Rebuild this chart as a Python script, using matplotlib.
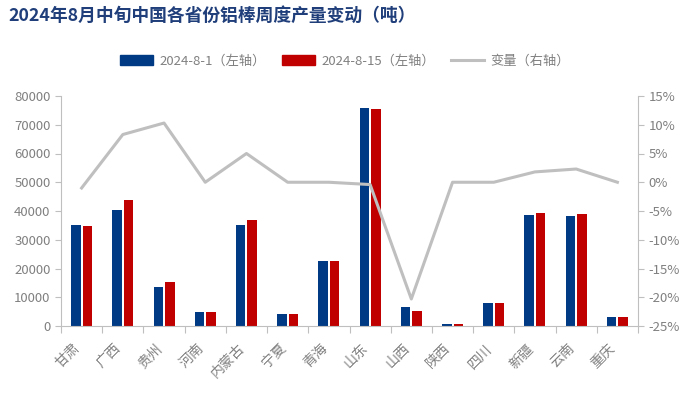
import numpy as np
import matplotlib.pyplot as plt
import matplotlib.transforms as mtransforms
from matplotlib.patches import Patch
from matplotlib.lines import Line2D
from matplotlib.ticker import FuncFormatter

plt.rcParams['font.family'] = ['Noto Sans CJK SC', 'DejaVu Sans']

provinces = ['甘肃', '广西', '贵州', '河南', '内蒙古', '宁夏', '青海', '山东',
             '山西', '陕西', '四川', '新疆', '云南', '重庆']
aug1 = [35100, 40300, 13600, 4900, 35100, 4200, 22600, 75800,
        6600, 700, 8000, 38600, 38300, 3100]
aug15 = [34800, 43800, 15300, 4900, 36900, 4200, 22600, 75500,
         5300, 700, 8000, 39300, 39000, 3100]
change = [-1.0, 8.3, 10.3, 0.0, 5.0, 0.0, 0.0, -0.4,
          -20.3, 0.0, 0.0, 1.8, 2.3, 0.0]

blue = '#003A84'
red = '#C00000'
grey_line = '#BFBFBF'
axis_grey = '#BFBFBF'
text_grey = '#808080'

fig = plt.figure(figsize=(6.9, 3.95), dpi=100)
ax = fig.add_axes([61 / 690, 1 - 326 / 395, 577 / 690, 230 / 395])
ax2 = ax.twinx()

x = np.arange(len(provinces))
w = 0.23
ax.bar(x - 0.14, aug1, w, color=blue, zorder=2)
ax.bar(x + 0.14, aug15, w, color=red, zorder=2)
ax.set_xlim(-0.5, len(provinces) - 0.5)
ax.set_ylim(0, 80000)
ax.set_yticks(range(0, 80001, 10000))

ax2.plot(x, change, color=grey_line, lw=2.2, zorder=3)
ax2.set_ylim(-25, 15)
ax2.set_yticks(range(-25, 16, 5))
ax2.yaxis.set_major_formatter(FuncFormatter(lambda v, p: f'{int(v)}%'))

# x ticks at category boundaries, labels centred on categories
ax.set_xticks(np.arange(-0.5, len(provinces)), minor=False)
ax.set_xticklabels([])
ax.set_xticks(x, minor=True)
ax.set_xticklabels(provinces, minor=True, rotation=45, ha='right',
                   rotation_mode='anchor', color=text_grey, fontsize=10)
ax.tick_params(axis='x', which='minor', length=0, pad=6)
ax.tick_params(axis='x', which='major', length=5, color=axis_grey)
shift = mtransforms.ScaledTranslation(-9 / 100, -7 / 100, fig.dpi_scale_trans)
for lab in ax.get_xticklabels(minor=True):
    lab.set_transform(lab.get_transform() + shift)

for a in (ax, ax2):
    a.spines['top'].set_visible(False)
    for s in ('left', 'right', 'bottom'):
        a.spines[s].set_color(axis_grey)
    a.tick_params(axis='y', colors=text_grey, labelsize=9.5, length=4)
    a.tick_params(axis='y', color=axis_grey)
ax.spines['right'].set_visible(False)
ax2.spines['left'].set_visible(False)
ax2.spines['bottom'].set_visible(False)

fig.text(8 / 690, 1 - 16 / 395, '2024年8月中旬中国各省份铝棒周度产量变动（吨）',
         fontsize=12.8, fontweight='bold', color='#1F3E7A', va='center')

handles = [Patch(color=blue, label='2024-8-1（左轴）'),
           Patch(color=red, label='2024-8-15（左轴）'),
           Line2D([0], [0], color=grey_line, lw=2.2, label='变量（右轴）')]
leg = fig.legend(handles=handles, loc='center', bbox_to_anchor=(0.5, 1 - 61 / 395),
                 ncol=3, frameon=False, fontsize=9.5, handlelength=2.5,
                 handleheight=0.8, columnspacing=1.2, handletextpad=0.5)
for t in leg.get_texts():
    t.set_color(text_grey)

fig.savefig('out.png', dpi=100)
